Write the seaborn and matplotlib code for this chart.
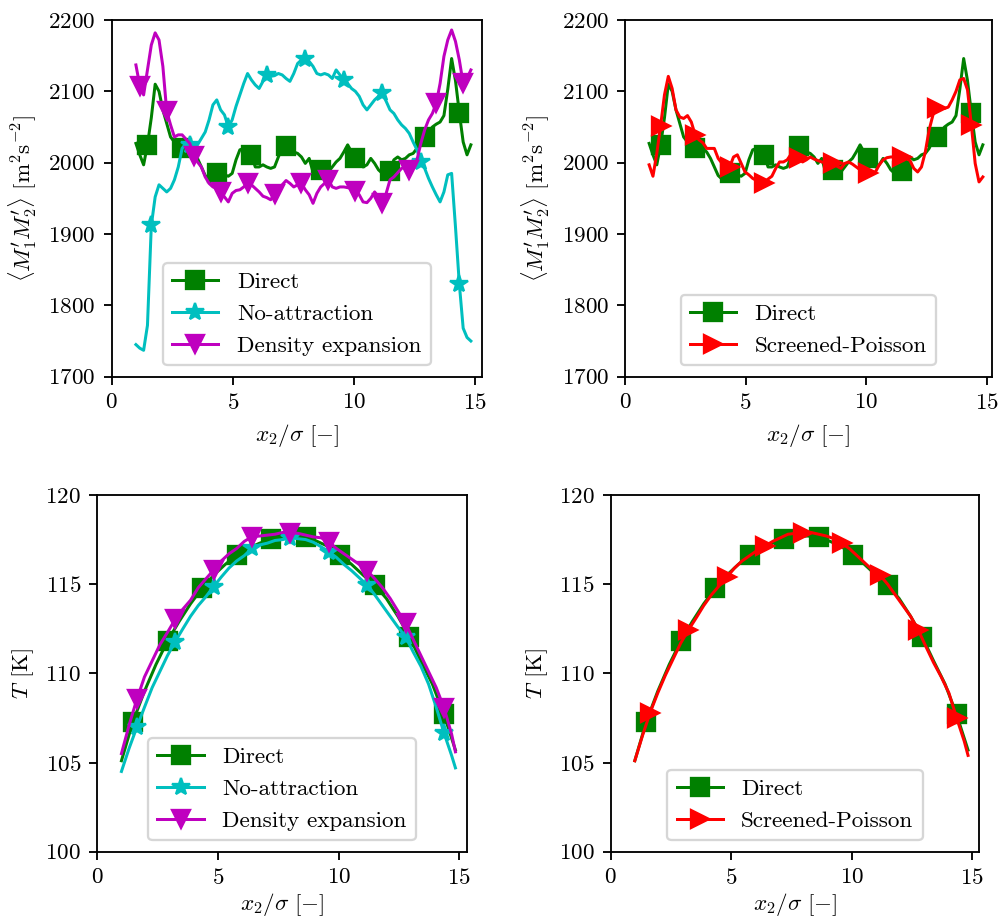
import numpy as np
import matplotlib
matplotlib.use("Agg")
import matplotlib.pyplot as plt
import seaborn as sns

# ---------------------------------------------------------------- data
# sampling positions across the channel (x2 / sigma)
x_profile = np.linspace(1.0, 14.833, 88)
x_direct_T = x_profile[::3]
x_other_T = np.append(x_profile[0:87:2], x_profile[-1])

# <M1' M2'> profiles [m^2 s^-2]
m12_direct = [2027, 2011, 1997, 2025, 2063, 2110, 2100, 2074, 2055, 2036,
              2029, 2023, 2021, 2021, 2020, 2015, 2006, 1994, 1982, 1977,
              1981, 1986, 1983, 1983, 1981, 1985, 2004, 2018, 2020, 2013,
              2011, 1994, 1994, 1997, 1994, 1992, 1994, 2008, 2021, 2024,
              2020, 2015, 2013, 2008, 1999, 2006, 1987, 1985, 1990, 1987,
              1987, 1994, 2001, 2006, 2015, 2025, 2015, 2007, 2001, 1994,
              1997, 2006, 1999, 1990, 1985, 1990, 1989, 2004, 2008, 2004,
              2006, 2011, 2013, 2020, 2032, 2036, 2043, 2050, 2054, 2057,
              2066, 2103, 2146, 2115, 2070, 2029, 2011, 2025]
m12_noattr = [1745, 1740, 1737, 1772, 1912, 1952, 1969, 1964, 1959, 1964,
              1976, 1994, 2020, 2027, 2025, 2020, 2025, 2034, 2043, 2060,
              2081, 2088, 2074, 2067, 2050, 2060, 2079, 2095, 2111, 2125,
              2116, 2109, 2104, 2114, 2123, 2121, 2122, 2125, 2123, 2118,
              2114, 2125, 2139, 2144, 2146, 2142, 2135, 2125, 2123, 2125,
              2123, 2118, 2130, 2123, 2116, 2111, 2104, 2100, 2093, 2081,
              2074, 2081, 2088, 2093, 2097, 2086, 2074, 2069, 2060, 2053,
              2048, 2041, 2029, 2018, 2001, 1992, 1978, 1966, 1955, 1945,
              1959, 1983, 1985, 1910, 1830, 1768, 1755, 1750]
m12_densexp = [2137, 2108, 2095, 2130, 2165, 2182, 2172, 2135, 2072, 2053,
               2036, 2039, 2039, 2033, 2027, 2010, 2001, 1994, 1980, 1971,
               1966, 1964, 1959, 1952, 1945, 1957, 1961, 1962, 1966, 1971,
               1969, 1964, 1959, 1953, 1951, 1948, 1956, 1964, 1969, 1975,
               1971, 1966, 1969, 1971, 1962, 1955, 1943, 1957, 1966, 1971,
               1976, 1966, 1964, 1966, 1966, 1965, 1964, 1961, 1955, 1945,
               1944, 1950, 1959, 1952, 1943, 1957, 1976, 1980, 1986, 1992,
               1994, 1990, 1997, 2004, 2027, 2046, 2060, 2069, 2083, 2111,
               2149, 2172, 2186, 2170, 2144, 2111, 2118, 2130]
m12_screened = [1997, 1981, 2013, 2052, 2095, 2121, 2104, 2074, 2064, 2062,
                2066, 2057, 2039, 2032, 2028, 2020, 2020, 2020, 2006, 1999,
                1995, 1994, 2008, 2011, 1999, 1987, 1983, 1978, 1975, 1973,
                1972, 1977, 1981, 1992, 2001, 2001, 2004, 2012, 2008, 2006,
                2001, 2004, 2008, 2005, 2003, 2001, 2000, 1999, 1999, 1995,
                1992, 1999, 2001, 1998, 1994, 1990, 1986, 1985, 1986, 1987,
                1997, 2004, 2007, 2008, 2008, 2008, 2008, 2006, 2003, 1992,
                1987, 1994, 2015, 2046, 2067, 2076, 2076, 2076, 2078, 2088,
                2100, 2116, 2118, 2102, 2053, 1999, 1973, 1980]

# temperature profiles [K]
T_direct = [105.1, 107.29, 109.0, 110.5, 111.81, 112.9, 113.9, 114.77, 115.5, 116.1,
            116.64, 117.0, 117.3, 117.51, 117.65, 117.7, 117.66, 117.4, 117.1, 116.64,
            116.1, 115.5, 114.95, 114.2, 113.2, 112.06, 110.7, 109.4, 107.70, 105.7]
T_noattr = [104.5, 105.8, 106.97, 108.1, 109.2, 110.1, 111.0, 111.78, 112.5, 113.2,
            113.8, 114.3, 114.86, 115.4, 115.9, 116.3, 116.6, 117.01, 117.2, 117.3,
            117.45, 117.5, 117.6, 117.55, 117.5, 117.35, 117.1, 116.82, 116.5, 116.1,
            115.75, 115.35, 114.95, 114.4, 113.8, 113.2, 112.6, 112.06, 111.2, 110.4,
            109.4, 108.1, 106.67, 105.4, 104.7]
T_densexp = [105.5, 107.1, 108.54, 109.8, 110.7, 111.6, 112.3, 113.03, 113.6, 114.1,
             114.8, 115.3, 115.79, 116.3, 116.7, 117.0, 117.4, 117.66, 117.7, 117.75,
             117.8, 117.9, 117.89, 117.85, 117.75, 117.65, 117.6, 117.38, 117.0, 116.7,
             116.4, 116.1, 115.76, 115.3, 114.8, 114.2, 113.5, 112.81, 111.9, 111.0,
             110.1, 109.2, 108.08, 106.6, 105.6]
T_screened = [105.1, 106.5, 107.80, 108.9, 109.9, 110.8, 111.7, 112.43, 113.1, 113.8,
              114.4, 114.9, 115.38, 115.9, 116.3, 116.6, 116.9, 117.14, 117.4, 117.6,
              117.8, 117.85, 117.89, 117.9, 117.8, 117.7, 117.55, 117.29, 117.0, 116.6,
              116.2, 115.8, 115.51, 115.0, 114.4, 113.8, 113.2, 112.43, 111.5, 110.6,
              109.8, 108.9, 107.51, 106.2, 105.4]

labels = ["Direct", "No-attraction", "Density expansion", "Screened-Poisson"]
x_ticks = [0, 5, 10, 15]
m12_ticks = [1700, 1800, 1900, 2000, 2100, 2200]
T_ticks = [100, 105, 110, 115, 120]

# ---------------------------------------------------------------- style
plt.rcParams.update({
    "font.family": "serif",
    "font.serif": ["cmr10"],
    "mathtext.fontset": "cm",
    "axes.formatter.use_mathtext": True,
    "axes.unicode_minus": False,
    "font.size": 10,
})

DPI = 166.5
fig = plt.figure(figsize=(999 / DPI, 920 / DPI), dpi=DPI)

W, H = 999.0, 920.0


def make_axes(l, r, t, b):
    return fig.add_axes([l / W, 1 - b / H, (r - l) / W, (b - t) / H])


ax_tl = make_axes(111.7, 481.7, 20.0, 376.7)
ax_tr = make_axes(625.0, 991.7, 20.0, 376.7)
ax_bl = make_axes(97.3, 466.7, 495.0, 851.7)
ax_br = make_axes(610.7, 979.3, 495.0, 851.7)


def curve(ax, x, y, color, marker, every, label):
    sns.lineplot(x=x, y=y, ax=ax, color=color, marker=marker,
                 markevery=every, markersize=8, markeredgecolor=color,
                 markeredgewidth=1.0, linewidth=1.3, label=label,
                 errorbar=None, estimator=None)


M12_LABEL = r"$\langle M_1^{\prime} M_2^{\prime}\rangle\ [\mathrm{m}^2\mathrm{s}^{-2}]$"
X_LABEL = r"$x_2/\sigma\ [-]$"
T_LABEL = r"$T$ [K]"

# top left: virial cross term, three closures
curve(ax_tl, x_profile, m12_direct, "g", "s", (3, 9), labels[0])
curve(ax_tl, x_profile, m12_noattr, "c", "*", (4, 10), labels[1])
curve(ax_tl, x_profile, m12_densexp, "m", "v", (1, 7), labels[2])

# top right: direct vs screened-Poisson
curve(ax_tr, x_profile, m12_direct, "g", "s", (3, 9), labels[0])
curve(ax_tr, x_profile, m12_screened, "r", ">", (3, 9), labels[3])

# bottom left: temperature, three closures
curve(ax_bl, x_direct_T, T_direct, "g", "s", (1, 3), labels[0])
curve(ax_bl, x_other_T, T_noattr, "c", "*", (2, 5), labels[1])
curve(ax_bl, x_other_T, T_densexp, "m", "v", (2, 5), labels[2])

# bottom right: temperature, direct vs screened-Poisson
curve(ax_br, x_direct_T, T_direct, "g", "s", (1, 3), labels[0])
curve(ax_br, x_other_T, T_screened, "r", ">", (2, 5), labels[3])

for ax, xmax in ((ax_tl, 15.28), (ax_tr, 15.2)):
    ax.set_xlim(0, xmax)
    ax.set_ylim(1700, 2200)
    ax.set_yticks(m12_ticks)
    ax.set_ylabel(M12_LABEL)
    ax.set_xlabel(X_LABEL)

for ax in (ax_bl, ax_br):
    ax.set_xlim(0, 15.3)
    ax.set_ylim(100, 120)
    ax.set_yticks(T_ticks)
    ax.set_ylabel(T_LABEL)
    ax.set_xlabel(X_LABEL, labelpad=1.5)

for ax in (ax_tl, ax_tr, ax_bl, ax_br):
    ax.set_xticks(x_ticks)
    ax.legend(loc="lower center")

fig.savefig("out.png", dpi=DPI)
